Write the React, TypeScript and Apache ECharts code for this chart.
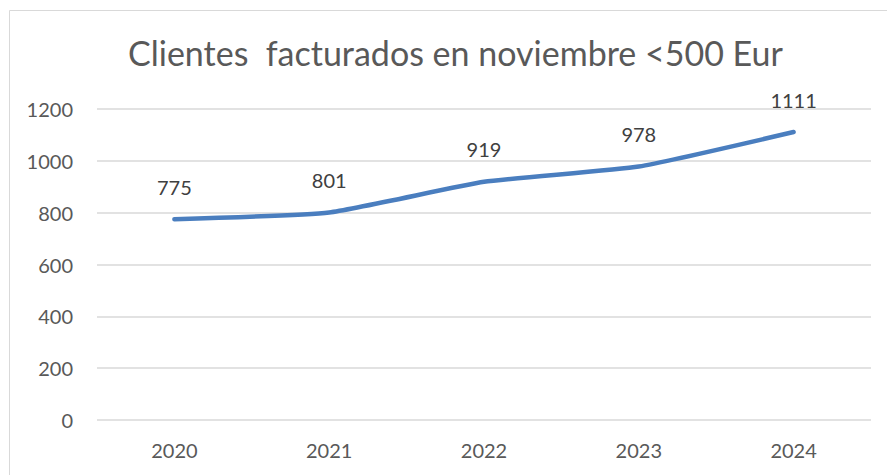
import React, { useEffect, useRef } from "react";
import * as echarts from "echarts";

const categories = ["2020", "2021", "2022", "2023", "2024"];
const values = [775, 801, 919, 978, 1111];
const titleText = "Clientes  facturados en noviembre <500 Eur";

const FONT = "Lato";

export default function App() {
  const ref = useRef<HTMLDivElement>(null);
  useEffect(() => {
    if (!ref.current) return;
    const chart = echarts.init(ref.current, undefined, { renderer: "svg" });
    chart.setOption({
      animation: false,
      backgroundColor: "#ffffff",
      graphic: [
        {
          type: "rect",
          shape: { x: 9.5, y: 10.5, width: 900, height: 500 },
          style: { fill: "none", stroke: "#d9d9d9", lineWidth: 1 },
          silent: true,
        },
      ],
      title: {
        text: titleText,
        left: 123,
        top: 30,
        textStyle: {
          fontFamily: FONT,
          fontSize: 34,
          fontWeight: "normal",
          color: "#595959",
        },
      },
      grid: { left: 97, right: 16, top: 109, bottom: 55 },
      xAxis: {
        type: "category",
        data: categories,
        boundaryGap: true,
        axisLine: { show: false },
        axisTick: { show: false },
        axisLabel: {
          color: "#595959",
          fontSize: 20,
          fontFamily: FONT,
          margin: 20,
        },
      },
      yAxis: {
        type: "value",
        min: 0,
        max: 1200,
        interval: 200,
        axisLine: { show: false },
        axisTick: { show: false },
        axisLabel: {
          color: "#595959",
          fontSize: 20,
          fontFamily: FONT,
          margin: 24,
          formatter: (v: number) => String(v),
        },
        splitLine: { lineStyle: { color: "#d9d9d9", width: 1.5 } },
      },
      series: [
        {
          type: "line",
          data: values,
          smooth: 0.15,
          symbol: "circle",
          symbolSize: 1,
          showSymbol: true,
          itemStyle: { color: "#4A7EBF", opacity: 0 },
          lineStyle: { color: "#4A7EBF", width: 4.5, cap: "round" },
          label: {
            show: true,
            position: "top",
            distance: 22,
            color: "#404040",
            fontSize: 20,
            fontFamily: FONT,
            opacity: 1,
          },
        },
      ],
    });
    return () => chart.dispose();
  }, []);
  return (
    <div
      ref={ref}
      style={{ position: "absolute", left: 0, top: 0, width: 887, height: 475 }}
    />
  );
}
